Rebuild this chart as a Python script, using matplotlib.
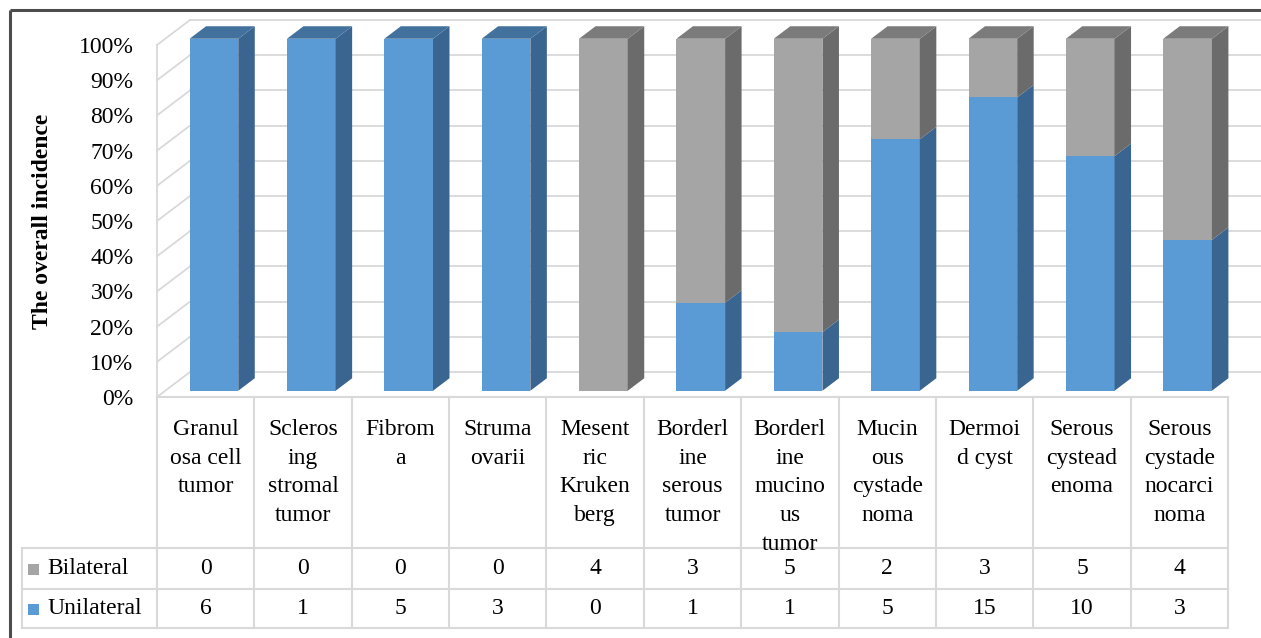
import matplotlib
matplotlib.use("Agg")
import matplotlib.pyplot as plt
from matplotlib.patches import Polygon, Rectangle
import numpy as np

# Tumour types and counts of unilateral / bilateral cases
categories = [
    "Granul\nosa cell\ntumor", "Scleros\ning\nstromal\ntumor", "Fibrom\na",
    "Struma\novarii", "Mesent\nric\nKruken\nberg", "Borderl\nine\nserous\ntumor",
    "Borderl\nine\nmucino\nus\ntumor", "Mucin\nous\ncystade\nnoma", "Dermoi\nd cyst",
    "Serous\ncystead\nenoma", "Serous\ncystade\nnocarci\nnoma",
]
bilateral = [0, 0, 0, 0, 4, 3, 5, 2, 3, 5, 4]
unilateral = [6, 1, 5, 3, 0, 1, 1, 5, 15, 10, 3]
series_names = ["Bilateral", "Unilateral"]
ytick_values = list(range(0, 101, 10))
ytick_labels = [f"{v}%" for v in ytick_values]

W, H = 1261, 638
fig = plt.figure(figsize=(W / 100, H / 100), dpi=100)
fig.patch.set_facecolor("white")

SERIF = ["Liberation Serif", "DejaVu Serif"]
FS = 17

# plot area (front plane of the walls), in pixels
X0, X1 = 157, 1228
Y0, Y1 = 397, 45          # 0% and 100%
ax = fig.add_axes([X0 / W, 1 - Y0 / H, (X1 - X0) / W, (Y0 - Y1) / H])
n = len(categories)
ax.set_xlim(0, n)
ax.set_ylim(0, 100)
for s in ax.spines.values():
    s.set_visible(False)
ax.set_xticks([])
ax.set_yticks(ytick_values)
ax.set_yticklabels(ytick_labels, fontsize=FS, family=SERIF)
ax.tick_params(axis="y", length=0, pad=17)
ax.patch.set_alpha(0)

# depth vector of the 3-D box in data units
px_x = n / (X1 - X0)
px_y = 100 / (Y0 - Y1)
DX, DY = 33 * px_x, 25 * px_y

grid_c = "#D9D9D9"
# back wall and side wall gridlines
for v in ytick_values:
    ax.plot([DX, n + DX], [v + DY, v + DY], color=grid_c, lw=1.3, clip_on=False, zorder=1)
    ax.plot([0, DX], [v, v + DY], color=grid_c, lw=1.3, clip_on=False, zorder=1)
ax.plot([0, 0], [0, 100], color=grid_c, lw=1.3, clip_on=False, zorder=1)

# 100% stacked bars with 3-D faces
totals = np.array(bilateral) + np.array(unilateral)
uni_pct = 100 * np.array(unilateral) / totals
bil_pct = 100 * np.array(bilateral) / totals

blue = dict(front="#5B9BD5", side="#3A6591", top="#41719C")
gray = dict(front="#A5A5A5", side="#6B6B6B", top="#7B7B7B")

fx, fy = 0.25 * DX, 0.25 * DY
bx, by = 0.75 * DX, 0.75 * DY
bw = 0.5

for i in range(n):
    segs = [(0, uni_pct[i], blue), (uni_pct[i], uni_pct[i] + bil_pct[i], gray)]
    segs = [s for s in segs if s[1] - s[0] > 1e-9]
    for k, (lo, hi, col) in enumerate(segs):
        xl = i + 0.5 - bw / 2
        xr = i + 0.5 + bw / 2
        ax.bar(xl + fx, hi - lo, width=bw, bottom=lo + fy, align="edge",
               color=col["front"], zorder=3 + k, clip_on=False)
        side = [(xr + fx, lo + fy), (xr + bx, lo + by), (xr + bx, hi + by), (xr + fx, hi + fy)]
        ax.add_patch(Polygon(side, closed=True, facecolor=col["side"], edgecolor="none",
                             zorder=3 + k, clip_on=False))
        if k == len(segs) - 1:
            top = [(xl + fx, hi + fy), (xl + bx, hi + by), (xr + bx, hi + by), (xr + fx, hi + fy)]
            ax.add_patch(Polygon(top, closed=True, facecolor=col["top"], edgecolor="none",
                                 zorder=3 + k, clip_on=False))

# overlay in pixel coordinates for the data table and frame
ov = fig.add_axes([0, 0, 1, 1])
ov.set_xlim(0, W)
ov.set_ylim(H, 0)
ov.axis("off")
ov.patch.set_alpha(0)

line_c = "#D9D9D9"
col_w = (X1 - X0) / n
row_top, row_b, row_u, row_end = Y0, 548, 589, 628
TL = 22
ov.plot([X0, X1], [row_top, row_top], color=line_c, lw=1.5)
for y in (row_b, row_u, row_end):
    ov.plot([TL, X1], [y, y], color=line_c, lw=1.5)
ov.plot([TL, TL], [row_b, row_end], color=line_c, lw=1.5)
for i in range(n + 1):
    x = X0 + i * col_w
    ov.plot([x, x], [row_top, row_end], color=line_c, lw=1.5)

for i, name in enumerate(categories):
    xc = X0 + (i + 0.5) * col_w
    ov.text(xc, 419, name, ha="center", va="top", fontsize=FS, family=SERIF,
            linespacing=1.48)
    ov.text(xc, (row_b + row_u) / 2, str(bilateral[i]), ha="center", va="center",
            fontsize=FS, family=SERIF)
    ov.text(xc, (row_u + row_end) / 2, str(unilateral[i]), ha="center", va="center",
            fontsize=FS, family=SERIF)

for name, yc, c in ((series_names[0], (row_b + row_u) / 2, gray["front"]),
                    (series_names[1], (row_u + row_end) / 2, blue["front"])):
    ov.add_patch(Rectangle((28, yc - 5), 11, 11, facecolor=c, edgecolor="none"))
    ov.text(47, yc, name, ha="left", va="center", fontsize=FS, family=SERIF)

# axis title
ov.text(43, 221, "The overall incidence", rotation=90, ha="center", va="center",
        fontsize=FS, family=SERIF, fontweight="bold")

# outer frame
ov.plot([10, W], [10, 10], color="#4D4D4D", lw=2.2, solid_capstyle="butt")
ov.plot([10, 10], [10, H], color="#4D4D4D", lw=2.2, solid_capstyle="butt")

fig.savefig("out.png", dpi=100)
